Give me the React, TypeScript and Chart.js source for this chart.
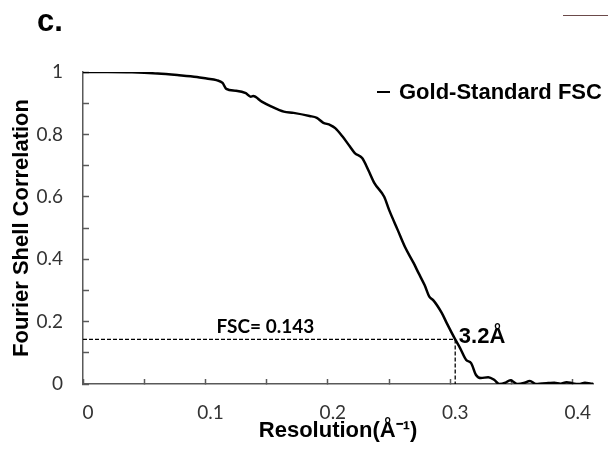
import React, { useEffect, useRef } from "react";
import { Chart, registerables } from "chart.js";

Chart.register(...registerables);

// Gold-standard FSC curve (resolution in 1/Å, correlation)
const resolution = [
  0, 0.02, 0.04, 0.061, 0.077, 0.093, 0.101, 0.109, 0.114, 0.117, 0.125, 0.133, 0.137, 0.139,
  0.146, 0.154, 0.164, 0.172, 0.185, 0.191, 0.196, 0.202, 0.206, 0.212, 0.218, 0.222, 0.228,
  0.233, 0.238, 0.246, 0.25, 0.257, 0.263, 0.27, 0.274, 0.279, 0.283, 0.286, 0.293, 0.297,
  0.304, 0.308, 0.313, 0.317, 0.321, 0.325, 0.331, 0.336, 0.34, 0.345, 0.349, 0.355, 0.36,
  0.365, 0.37, 0.375, 0.38, 0.385, 0.39, 0.395, 0.4, 0.405, 0.41, 0.415, 0.42,
];
const fsc = [
  1.0, 1.0, 0.999, 0.995, 0.99, 0.984, 0.979, 0.974, 0.965, 0.946, 0.94, 0.932, 0.921, 0.923,
  0.905, 0.889, 0.873, 0.869, 0.859, 0.853, 0.838, 0.83, 0.82, 0.793, 0.761, 0.74, 0.724,
  0.686, 0.644, 0.6, 0.558, 0.494, 0.439, 0.388, 0.356, 0.317, 0.279, 0.269, 0.228, 0.196,
  0.143, 0.115, 0.077, 0.067, 0.029, 0.019, 0.022, 0.013, 0.0, 0.004, 0.012, 0.0, 0.003,
  0.01, 0.0, 0.002, 0.003, 0.004, 0.001, 0.006, 0.002, 0.0, 0.004, 0.001, 0.0,
];

const thresholdFsc = 0.143;
const thresholdRes = 0.304;
const seriesLabel = "Gold-Standard FSC";
const xTitle = "Resolution(Å⁻¹)";
const yTitle = "Fourier Shell Correlation";
const panelLabel = "c.";
const thresholdText = "FSC= 0.143";
const resolutionText = "3.2Å";

const ARIAL = '"Liberation Sans", Arial, sans-serif';
const TICKFONT = 'Lato, "Open Sans", sans-serif';

const textPlugin = {
  id: "annotText",
  afterDraw(chart: any) {
    const ctx = chart.ctx;
    const xs = chart.scales.x;
    const ys = chart.scales.y;
    ctx.save();
    ctx.fillStyle = "#000";
    // panel label
    ctx.font = `bold 31px ${ARIAL}`;
    ctx.textBaseline = "alphabetic";
    ctx.textAlign = "left";
    ctx.fillText(panelLabel, 37, 31);
    // legend
    ctx.strokeStyle = "#000";
    ctx.lineWidth = 2;
    ctx.beginPath();
    ctx.moveTo(377, 92);
    ctx.lineTo(390, 92);
    ctx.stroke();
    ctx.font = `bold 22px ${ARIAL}`;
    ctx.textBaseline = "middle";
    ctx.fillText(seriesLabel, 399, 93);
    // annotations
    ctx.font = `bold 19px ${TICKFONT}`;
    ctx.fillText(thresholdText, xs.getPixelForValue(0.109), ys.getPixelForValue(0.183));
    ctx.font = `bold 22px ${ARIAL}`;
    ctx.fillText(resolutionText, xs.getPixelForValue(0.307), ys.getPixelForValue(0.151));
    // fragment of neighbouring panel
    ctx.strokeStyle = "#6b4a4a";
    ctx.lineWidth = 1;
    ctx.beginPath();
    ctx.moveTo(563, 15.5);
    ctx.lineTo(608, 15.5);
    ctx.stroke();
    ctx.restore();
  },
};

export default function App() {
  const ref = useRef<HTMLCanvasElement | null>(null);
  useEffect(() => {
    document.body.style.margin = "0";
    const canvas = ref.current!;
    const chart = new Chart(canvas, {
      type: "line",
      data: {
        datasets: [
          {
            label: seriesLabel,
            data: resolution.map((r, i) => ({ x: r, y: fsc[i] })),
            borderColor: "#000",
            borderWidth: 2.5,
            pointRadius: 0,
            cubicInterpolationMode: "monotone",
            fill: false,
          },
          {
            label: "h",
            data: [
              { x: 0, y: thresholdFsc },
              { x: thresholdRes, y: thresholdFsc },
            ],
            borderColor: "#000",
            borderWidth: 1.3,
            borderDash: [4, 2],
            pointRadius: 0,
          },
          {
            label: "v",
            data: [
              { x: thresholdRes, y: thresholdFsc },
              { x: thresholdRes, y: 0 },
            ],
            borderColor: "#000",
            borderWidth: 1.3,
            borderDash: [4, 2],
            pointRadius: 0,
          },
        ],
      },
      options: {
        responsive: false,
        animation: false,
        devicePixelRatio: 1,
        layout: { padding: { top: 72, right: 0, left: 0, bottom: 0 } },
        plugins: { legend: { display: false }, tooltip: { enabled: false } },
        scales: {
          x: {
            type: "linear",
            min: 0,
            max: 0.4167,
            afterFit: (s: any) => {
              s.height = 67;
            },
            border: { color: "#595959", width: 1.5 },
            grid: {
              drawOnChartArea: false,
              tickLength: -5,
              tickColor: "#595959",
              tickWidth: 1.5,
            },
            ticks: {
              stepSize: 0.05,
              includeBounds: false,
              autoSkip: false,
              maxRotation: 0,
              labelOffset: 5,
              padding: 22,
              color: "#333",
              font: { family: TICKFONT, size: 19 },
              callback: (v: any) => {
                const k = Math.round(Number(v) * 100);
                if (k % 10 !== 0) return "";
                return k === 0 ? "0" : (k / 100).toFixed(1);
              },
            },
            title: {
              display: true,
              text: xTitle,
              color: "#000",
              font: { family: ARIAL, size: 22, weight: "bold" },
              padding: { top: 0, bottom: 7 },
            },
          },
          y: {
            type: "linear",
            min: 0,
            max: 1,
            afterFit: (s: any) => {
              s.width = 83;
            },
            border: { color: "#595959", width: 1.5 },
            grid: {
              drawOnChartArea: false,
              tickLength: -6,
              tickColor: "#595959",
              tickWidth: 1.5,
            },
            ticks: {
              stepSize: 0.1,
              autoSkip: false,
              padding: 26,
              color: "#333",
              font: { family: TICKFONT, size: 19 },
              callback: (v: any) => {
                const k = Math.round(Number(v) * 10);
                if (k % 2 !== 0) return "";
                return k === 0 ? "0" : k === 10 ? "1" : (k / 10).toFixed(1);
              },
            },
            title: {
              display: true,
              text: yTitle,
              color: "#000",
              font: { family: ARIAL, size: 22, weight: "bold" },
              padding: { top: 9, bottom: 0 },
            },
          },
        },
      },
      plugins: [textPlugin],
    } as any);
    return () => chart.destroy();
  }, []);
  return (
    <div style={{ position: "absolute", left: 0, top: 0, width: 608, height: 451, background: "#fff" }}>
      <canvas ref={ref} width={608} height={451} />
    </div>
  );
}
